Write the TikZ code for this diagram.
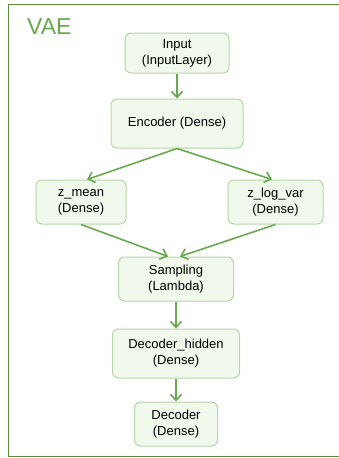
\documentclass[tikz,border=0pt]{standalone}
\usepackage{fontspec}
\setmainfont{Liberation Sans}
\usetikzlibrary{arrows.meta}

\definecolor{framegreen}{HTML}{5B8C3A}
\definecolor{arrowgreen}{HTML}{6AA84F}
\definecolor{boxfill}{HTML}{F1F8EC}
\definecolor{boxline}{HTML}{B6D7A8}

\begin{document}
\begin{tikzpicture}[x=1pt,y=-1pt,
	layer/.style={draw=boxline, fill=boxfill, line width=1pt, rounded corners=6pt,
		align=center, inner sep=0pt, font=\fontsize{13}{16}\selectfont},
	flow/.style={draw=arrowgreen, line width=1.6pt, -{Straight Barb[length=6pt,width=11pt,line width=1.6pt]}}]
	\useasboundingbox (0,0) rectangle (339,458);
	\draw[framegreen, line width=1.5pt] (339,4.5) -- (8.5,4.5) -- (8.5,456.5) -- (339,456.5);
	\node[text=arrowgreen, font=\fontsize{23}{26}\selectfont, anchor=base west, inner sep=0pt] (title) at (27,34) {VAE};

	\node[layer, minimum width=104pt, minimum height=40pt] (input) at (177,53) {Input\\(InputLayer)};
	\node[layer, minimum width=132pt, minimum height=49pt] (encoder) at (177,123.5) {Encoder (Dense)};
	\node[layer, minimum width=90pt, minimum height=44pt] (zmean) at (81,202) {z\_mean\\(Dense)};
	\node[layer, minimum width=95pt, minimum height=44pt] (zlogvar) at (275.5,202) {z\_log\_var\\(Dense)};
	\node[layer, minimum width=115pt, minimum height=44pt] (sampling) at (176,279) {Sampling\\(Lambda)};
	\node[layer, minimum width=127pt, minimum height=49pt] (dechidden) at (176,353.5) {Decoder\_hidden\\(Dense)};
	\node[layer, minimum width=83pt, minimum height=44pt] (decoder) at (176,424) {Decoder\\(Dense)};

	\draw[flow] (input) -- (encoder);
	\draw[flow] (encoder.south) -- (zmean.north -| 87,0);
	\draw[flow] (encoder.south) -- (zlogvar.north -| 272,0);
	\draw[flow] (zmean.south) -- (sampling.north -| 168,0);
	\draw[flow] (zlogvar.south) -- (sampling.north -| 180,0);
	\draw[flow] (sampling) -- (dechidden);
	\draw[flow] (dechidden) -- (decoder);
\end{tikzpicture}
\end{document}
